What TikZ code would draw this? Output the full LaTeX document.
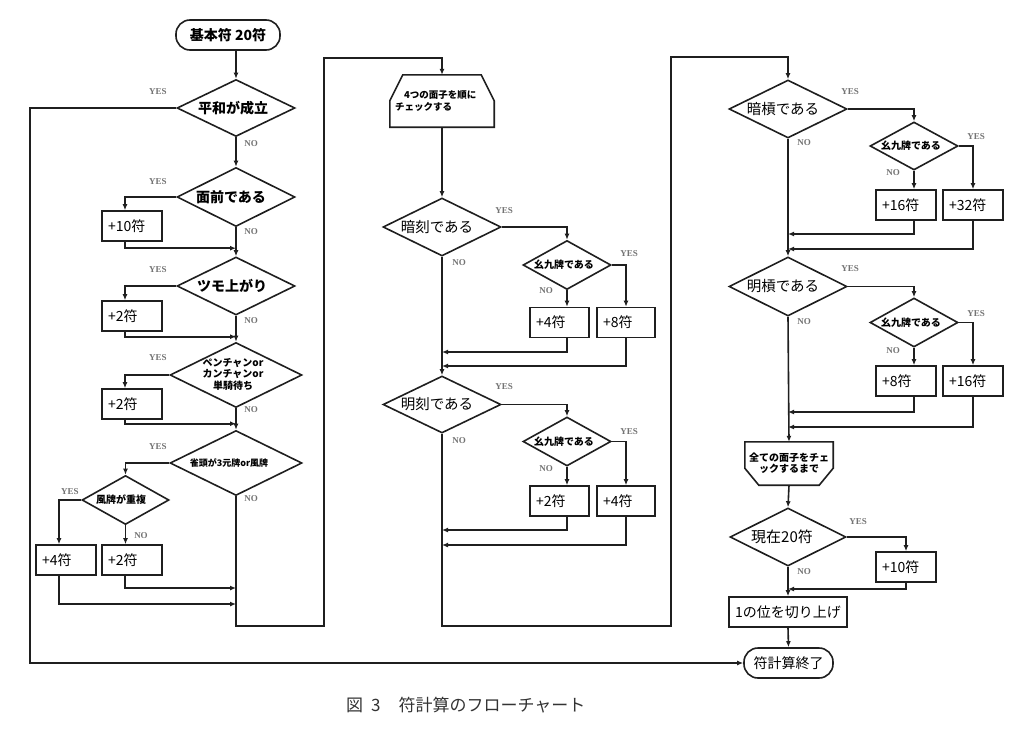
\documentclass[tikz,border=0pt]{standalone}
\usepackage{fontspec}
\setmainfont{Noto Sans CJK JP}
\newfontfamily\ynfont{Liberation Serif}
\usetikzlibrary{shapes.geometric,arrows.meta,calc}
\begin{document}
\begin{tikzpicture}[x=1pt,y=-1pt,
  fcline/.style={line width=1.6pt, draw=black!88},
  fcarr/.style={fcline, -{Latex[length=6pt,width=5pt]}},
  fcdia/.style={fcline, diamond, inner sep=0pt},
  fcbox/.style={fcline, rectangle, inner ysep=0pt, inner xsep=6pt, text width=48pt, minimum height=30pt, align=left, font=\fontsize{14}{16}\selectfont},
  fcterm/.style={fcline, rectangle, rounded corners=14pt, minimum height=30pt, inner sep=0pt},
  fcyn/.style={font=\ynfont\bfseries\fontsize{9}{10}\selectfont, text=black!55, inner sep=0pt},
  fctxt/.style={font=\fontsize{14.5}{16}\selectfont, inner sep=0pt},
  fctxtb/.style={font=\bfseries\fontsize{14}{16}\selectfont, inner sep=0pt},
  fcsm/.style={font=\bfseries\fontsize{10}{11}\selectfont, inner sep=0pt},
]
\fill[white] (0,0) rectangle (1025,734);
\useasboundingbox (0,0) rectangle (1025,734);

% ---------- column 1 ----------
\node[fcterm, minimum width=104, font=\bfseries\fontsize{14}{16}\selectfont] (s) at (228,35) {基本符 20符};
\node[fcdia, minimum width=118, minimum height=57] (d1) at (236,108) {};
\node[fctxtb] (d1t) at (233,108) {平和が成立};
\node[fcdia, minimum width=118, minimum height=59] (d2) at (236,197) {};
\node[fctxtb] (d2t) at (231,197) {面前である};
\node[fcbox] (b1) at (132,226) {+10符};
\node[fcdia, minimum width=118, minimum height=58] (d3) at (236,286) {};
\node[fctxtb] (d3t) at (232,286) {ツモ上がり};
\node[fcbox] (b2) at (132,316) {+2符};
\node[fcdia, minimum width=132, minimum height=65] (d4) at (236,375) {};
\node[font=\bfseries\fontsize{10}{11.5}\selectfont, inner sep=0pt, align=center] (d4t) at (233,374) {ペンチャンor\\カンチャンor\\単騎待ち};
\node[fcbox] (b3) at (132,404) {+2符};
\node[fcdia, minimum width=132, minimum height=65] (d5) at (236,463) {};
\node[font=\bfseries\fontsize{9}{10}\selectfont, inner sep=0pt] (d5t) at (229,463) {雀頭が3元牌or風牌};
\node[fcdia, minimum width=87, minimum height=49] (d6) at (125.5,500) {};
\node[font=\bfseries\fontsize{10}{11}\selectfont, inner sep=0pt] (d6t) at (121,500) {風牌が重複};
\node[fcbox] (b4) at (66,560) {+4符};
\node[fcbox] (b5) at (132,560) {+2符};

\node[fcyn] (y1) at (158,92) {YES};
\node[fcyn] (n1) at (251,144) {NO};
\node[fcyn] (y2) at (158,182) {YES};
\node[fcyn] (n2) at (251,232) {NO};
\node[fcyn] (y3) at (158,270) {YES};
\node[fcyn] (n3) at (251,321) {NO};
\node[fcyn] (y4) at (158,358) {YES};
\node[fcyn] (n4) at (251,410) {NO};
\node[fcyn] (y5) at (158,447) {YES};
\node[fcyn] (n5) at (251,499) {NO};
\node[fcyn] (y6) at (70,492) {YES};
\node[fcyn] (n6) at (141,536) {NO};

\coordinate (L1) at (30,0);
\coordinate (m1) at (236,588);
\coordinate (m2) at (236,604);
\coordinate (j1) at (324,626);
\coordinate (j2) at (324,58);

\draw[fcarr] (s.south -| d1.north) -- (d1.north);
\draw[fcarr] (d1.south) -- (d2.north);
\draw[fcarr] (d2.west) -| ([xshift=-7pt]b1.north);
\draw[fcarr] ([xshift=-7pt]b1.south) |- ([yshift=8pt]d3.north);
\draw[fcarr] (d2.south) -- (d3.north);
\draw[fcarr] (d3.west) -| ([xshift=-7pt]b2.north);
\draw[fcarr] ([xshift=-7pt]b2.south) |- ([yshift=5pt]d4.north);
\draw[fcarr] (d3.south) -- (d4.north);
\draw[fcarr] (d4.west) -| ([xshift=-7pt]b3.north);
\draw[fcarr] ([xshift=-7pt]b3.south) |- ([yshift=6pt]d5.north);
\draw[fcarr] (d4.south) -- (d5.north);
\draw[fcarr] (d5.west) -| (d6.north);
\draw[fcarr] (d6.west) -| ([xshift=-7pt]b4.north);
\draw[fcarr] (d6.south) -- (d6.south |- b5.north);
\draw[fcarr] ([xshift=-7pt]b5.south) |- (m1);
\draw[fcarr] ([xshift=-7pt]b4.south) |- (m2);

% ---------- column 2 ----------
\node[minimum width=104, minimum height=52, inner sep=0pt] (lp1) at (442,101) {};
\draw[fcline] (lp1.south west) -- ([yshift=-26pt]lp1.north west) -- ([xshift=13pt]lp1.north west) -- ([xshift=-13pt]lp1.north east) -- ([yshift=-26pt]lp1.north east) -- (lp1.south east) -- cycle;
\node[font=\bfseries\fontsize{9.5}{12}\selectfont, inner sep=0pt, align=left, anchor=west] (lp1t) at (395,101) {\hspace{9pt}4つの面子を順に\\チェックする};

\node[fcdia, minimum width=118, minimum height=58] (d7) at (442,227) {};
\node[fctxt] (d7t) at (437,227) {暗刻である};
\node[fcdia, minimum width=88, minimum height=49] (d8) at (567,265) {};
\node[fcsm] (d8t) at (564,265) {幺九牌である};
\node[fcbox, text width=47pt] (b6) at (559.5,322.5) {+4符};
\node[fcbox, text width=46pt] (b7) at (626,322.5) {+8符};
\node[fcdia, minimum width=118, minimum height=57] (d9) at (442,404.5) {};
\node[fctxt] (d9t) at (437,404.5) {明刻である};
\node[fcdia, minimum width=88, minimum height=49] (d10) at (567,441.5) {};
\node[fcsm] (d10t) at (564,441.5) {幺九牌である};
\node[fcbox, text width=47pt] (b8) at (559.5,501) {+2符};
\node[fcbox, text width=46pt] (b9) at (626,501) {+4符};

\node[fcyn] (y7) at (504,211) {YES};
\node[fcyn] (n7) at (459,263) {NO};
\node[fcyn] (y8) at (629,254) {YES};
\node[fcyn] (n8) at (546,291) {NO};
\node[fcyn] (y9) at (504,387) {YES};
\node[fcyn] (n9) at (459,441) {NO};
\node[fcyn] (y10) at (629,432) {YES};
\node[fcyn] (n10) at (546,469) {NO};

\coordinate (m3) at (442,352);
\coordinate (m4) at (442,366);
\coordinate (m5) at (442,530);
\coordinate (m6) at (442,545);
\coordinate (j3) at (671,626);
\coordinate (j4) at (671,57);

\draw[fcarr] (d5.south) |- (j1) -- (j2) -| (lp1.north);
\draw[fcarr] (lp1.south) -- (d7.north);
\draw[fcarr] (d7.east) -| (d8.north);
\draw[fcarr] (d8.south) -- (d8.south |- b6.north);
\draw[fcarr] (d8.east) -| (b7.north);
\draw[fcarr] (d8.south |- b6.south) |- (m3);
\draw[fcarr] (b7.south) |- (m4);
\draw[fcarr] (d7.south) -- (d9.north);
\draw[fcarr] (d9.east) -| (d10.north);
\draw[fcarr] (d10.south) -- (d10.south |- b8.north);
\draw[fcarr] (d10.east) -| (b9.north);
\draw[fcarr] (d10.south |- b8.south) |- (m5);
\draw[fcarr] (b9.south) |- (m6);

% ---------- column 3 ----------
\node[fcdia, minimum width=118, minimum height=58] (d11) at (788,109) {};
\node[fctxt] (d11t) at (783,109) {暗槓である};
\node[fcdia, minimum width=88, minimum height=48] (d12) at (914,146) {};
\node[fcsm] (d12t) at (911,146) {幺九牌である};
\node[fcbox] (b10) at (906,205) {+16符};
\node[fcbox] (b11) at (973,205) {+32符};
\node[fcdia, minimum width=118, minimum height=59] (d13) at (788,286.5) {};
\node[fctxt] (d13t) at (783,286.5) {明槓である};
\node[fcdia, minimum width=88, minimum height=49] (d14) at (914,322.5) {};
\node[fcsm] (d14t) at (911,322.5) {幺九牌である};
\node[fcbox] (b12) at (906,381) {+8符};
\node[fcbox] (b13) at (973,381) {+16符};

\node[minimum width=88, minimum height=43, inner sep=0pt] (lp2) at (789,463.5) {};
\draw[fcline] (lp2.north west) -- (lp2.north east) -- ([yshift=17pt]lp2.south east) -- ([xshift=-14pt]lp2.south east) -- ([xshift=14pt]lp2.south west) -- ([yshift=17pt]lp2.south west) -- cycle;
\node[font=\bfseries\fontsize{10}{11}\selectfont, inner sep=0pt, align=center] (lp2t) at (789,463) {全ての面子をチェ\\ックするまで};

\node[fcdia, minimum width=116, minimum height=58] (d15) at (788,537) {};
\node[font=\fontsize{15}{16}\selectfont, inner sep=0pt] (d15t) at (782,537) {現在20符};
\node[fcbox] (b14) at (906,567) {+10符};
\node[fcbox, text width=110pt, inner xsep=4pt, align=center] (b15) at (788,612) {1の位を切り上げ};
\node[fcterm, minimum width=89, font=\fontsize{14}{16}\selectfont] (e) at (788.5,663) {符計算終了};

\node[fcyn] (y11) at (850,92) {YES};
\node[fcyn] (n11) at (804,143) {NO};
\node[fcyn] (y12) at (976,137) {YES};
\node[fcyn] (n12) at (893,173) {NO};
\node[fcyn] (y13) at (850,269) {YES};
\node[fcyn] (n13) at (804,322) {NO};
\node[fcyn] (y14) at (976,314) {YES};
\node[fcyn] (n14) at (893,351) {NO};
\node[fcyn] (y15) at (858,522) {YES};
\node[fcyn] (n15) at (804,572) {NO};

\coordinate (m7) at (788,234);
\coordinate (m8) at (788,249);
\coordinate (m9) at (788,412);
\coordinate (m10) at (788,427);
\coordinate (m11) at (788,589);

\draw[fcarr] (d9.south) |- (j3) -- (j4) -| (d11.north);
\draw[fcarr] (d11.east) -| (d12.north);
\draw[fcarr] (d12.south) -- (d12.south |- b10.north);
\draw[fcarr] (d12.east) -| (b11.north);
\draw[fcarr] (d12.south |- b10.south) |- (m7);
\draw[fcarr] (b11.south) |- (m8);
\draw[fcarr] (d11.south) -- (d13.north);
\draw[fcarr] (d13.east) -| (d14.north);
\draw[fcarr] (d14.south) -- (d14.south |- b12.north);
\draw[fcarr] (d14.east) -| (b13.north);
\draw[fcarr] (d14.south |- b12.south) |- (m9);
\draw[fcarr] (b13.south) |- (m10);
\draw[fcarr] (d13.south) -- (lp2.north);
\draw[fcarr] (lp2.south) -- (d15.north);
\draw[fcarr] (d15.east) -| (b14.north);
\draw[fcarr] (b14.south) |- (m11);
\draw[fcarr] (d15.south) -- (b15.north);
\draw[fcarr] (b15.south) -- (e.north);

% YES path of the first decision to the end
\draw[fcarr] (d1.west) -| (L1 |- e.west) -- (e.west);

% caption
\node[anchor=west, font=\fontsize{17}{18}\selectfont, text=black!80, inner sep=0pt] (cap) at (346,705) {図\hspace{8pt}3\hspace{18pt}符計算のフローチャート};
\end{tikzpicture}
\end{document}
